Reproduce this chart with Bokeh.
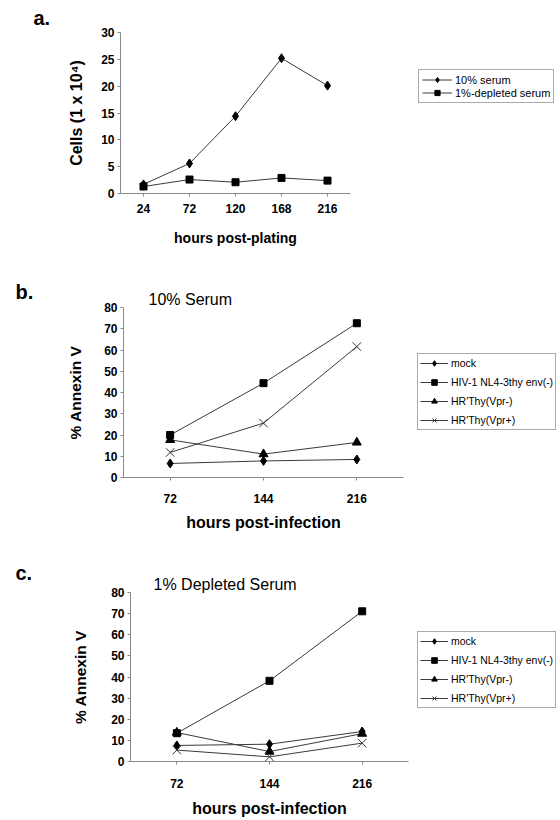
from bokeh.plotting import figure
from bokeh.models import Legend, LegendItem, FactorRange, Title
from bokeh.embed import file_html
from bokeh.resources import INLINE

# ---------------- data ----------------
hours_a = ["24", "72", "120", "168", "216"]
serum10 = [1.7, 5.6, 14.4, 25.2, 20.1]
serum1_dep = [1.3, 2.6, 2.1, 2.9, 2.4]

hours_bc = ["72", "144", "216"]
b_mock = [6.6, 7.8, 8.5]
b_hiv = [20.0, 44.4, 72.6]
b_vprm = [17.7, 11.0, 16.5]
b_vprp = [11.8, 25.6, 61.6]

c_mock = [7.6, 8.2, 14.2]
c_hiv = [13.4, 38.2, 71.1]
c_vprm = [13.7, 4.7, 13.2]
c_vprp = [5.4, 2.2, 8.7]

yticks_a = [0, 5, 10, 15, 20, 25, 30]
yticks_bc = [0, 10, 20, 30, 40, 50, 60, 70, 80]

FONT = "Liberation Sans"
LINE = "#3a3a3a"
AXIS = "#8a8a8a"
TOTAL_W = 558


def style(p, yticks, xlab, ylab, xlab_size, ylab_size,
          tick_standoff, label_standoff, ylab_standoff):
    p.xgrid.visible = False
    p.ygrid.visible = False
    p.outline_line_color = None
    p.background_fill_color = "white"
    p.border_fill_color = "white"
    for ax in (p.xaxis[0], p.yaxis[0]):
        ax.axis_line_color = AXIS
        ax.major_tick_line_color = AXIS
        ax.minor_tick_line_color = None
        ax.major_tick_in = 0
        ax.major_tick_out = 3
        ax.major_label_text_font = FONT
        ax.major_label_text_font_style = "bold"
        ax.major_label_text_font_size = "12px"
        ax.major_label_text_color = "black"
        ax.axis_label_text_font = FONT
        ax.axis_label_text_font_style = "bold"
        ax.axis_label_text_color = "black"
    p.xaxis[0].axis_label_text_font_size = xlab_size
    p.yaxis[0].axis_label_text_font_size = ylab_size
    p.yaxis[0].ticker = yticks
    p.yaxis[0].major_label_standoff = 3
    p.yaxis[0].axis_label_standoff = ylab_standoff
    p.xaxis[0].major_label_standoff = tick_standoff
    p.xaxis[0].axis_label_standoff = label_standoff
    p.xaxis[0].axis_label = xlab
    p.yaxis[0].axis_label = ylab


def make_fig(factors, ymax, fw, fh, left, top, bottom):
    return figure(
        x_range=FactorRange(*factors, range_padding=0),
        y_range=(0, ymax),
        frame_width=fw, frame_height=fh,
        min_border_left=left, min_border_right=TOTAL_W - left - fw,
        min_border_top=top, min_border_bottom=bottom,
        output_backend="svg", toolbar_location=None,
    )


def legend_style(lg, x, y, size, spacing, glyph_h, glyph_w, pad):
    lg.location = (x, y)
    lg.label_text_font = FONT
    lg.label_text_font_size = size
    lg.label_text_color = "black"
    lg.border_line_color = "#555555"
    lg.border_line_width = 1
    lg.background_fill_alpha = 1
    lg.padding = pad
    lg.spacing = spacing
    lg.margin = 0
    lg.glyph_width = glyph_w
    lg.glyph_height = glyph_h
    lg.label_height = glyph_h
    lg.label_standoff = 3


def add_title(p, text, size, bold, offset, standoff):
    p.add_layout(Title(text=text, text_font=FONT, text_font_size=size,
                       text_font_style="bold" if bold else "normal",
                       text_color="black", offset=offset, align="left",
                       vertical_align="top", standoff=standoff), "above")


# ---------------- panel a ----------------
pa = make_fig(hours_a, 30, 230, 161, 120, 32, 57)
style(pa, yticks_a, "hours post-plating", "Cells (1 x 10\u2074)", "14px", "16px",
      7, 14, 13)
la1 = pa.line(hours_a, serum10, line_color=LINE, line_width=1)
sa1 = pa.scatter(hours_a, serum10, marker="diamond", size=9, color="black")
la2 = pa.line(hours_a, serum1_dep, line_color=LINE, line_width=1)
sa2 = pa.scatter(hours_a, serum1_dep, marker="square", size=7, color="black")
lga = Legend(items=[LegendItem(label="10% serum", renderers=[la1, sa1]),
                    LegendItem(label="1%-depleted serum", renderers=[la2, sa2])])
legend_style(lga, 68, 90, "11px", 0, 13, 30, 3)
pa.add_layout(lga, "right")
add_title(pa, "a.", "20px", True, -87, 3)


def bc_panel(title, mock, hiv, vprm, vprp, left, top, fw, fh, bottom,
             tstand, lstand, ystand, leg_x, leg_y, letter, letter_off,
             title_off, title_standoff, letter_standoff):
    p = make_fig(hours_bc, 80, fw, fh, left, top, bottom)
    style(p, yticks_bc, "hours post-infection", "% Annexin V", "16px", "15.5px",
          tstand, lstand, ystand)
    l1 = p.line(hours_bc, mock, line_color=LINE, line_width=1)
    s1 = p.scatter(hours_bc, mock, marker="diamond", size=9, color="black")
    l2 = p.line(hours_bc, hiv, line_color=LINE, line_width=1)
    s2 = p.scatter(hours_bc, hiv, marker="square", size=7, color="black")
    l3 = p.line(hours_bc, vprm, line_color=LINE, line_width=1)
    s3 = p.scatter(hours_bc, vprm, marker="triangle", size=9, color="black")
    l4 = p.line(hours_bc, vprp, line_color=LINE, line_width=1)
    s4 = p.scatter(hours_bc, vprp, marker="x", size=12, line_color="#333333",
                   line_width=1)
    lg = Legend(items=[LegendItem(label="mock", renderers=[l1, s1]),
                       LegendItem(label="HIV-1 NL4-3thy env(-)", renderers=[l2, s2]),
                       LegendItem(label="HR'Thy(Vpr-)", renderers=[l3, s3]),
                       LegendItem(label="HR'Thy(Vpr+)", renderers=[l4, s4])])
    legend_style(lg, leg_x, leg_y, "10.5px", 5, 14, 28, 2)
    p.add_layout(lg, "right")
    add_title(p, title, "16px", False, title_off, title_standoff)
    add_title(p, letter, "20px", True, letter_off, letter_standoff)
    return p


pb = bc_panel("10% Serum", b_mock, b_hiv, b_vprm, b_vprp,
              123, 57, 280, 170, 58, 13, 8, 17, 14, 47, "b.", -108, 25, -4, -24)
pc = bc_panel("1% Depleted Serum", c_mock, c_hiv, c_vprm, c_vprp,
              130, 57, 278, 169, 58, 14, 9, 19, 9, 53, "c.", -115, 23, -5, -34)

open("out.html", "w").write(file_html([pa, pb, pc], INLINE))
